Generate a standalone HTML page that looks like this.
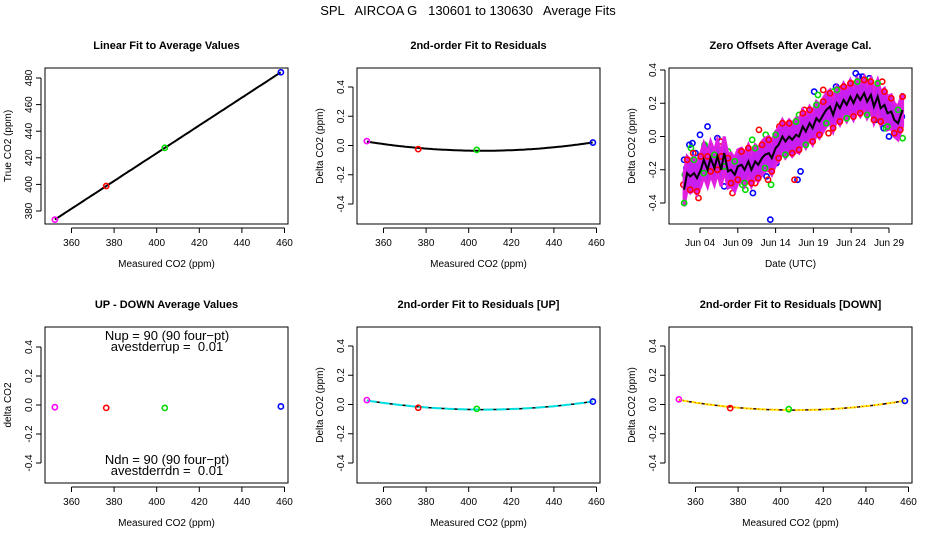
<!DOCTYPE html>
<html><head><meta charset="utf-8"><style>
body{margin:0;background:#fff}
svg{display:block;font-family:"Liberation Sans",Arial,sans-serif}
text{white-space:pre}
</style></head><body>
<svg id="c" width="936" height="540" viewBox="0 0 936 540">
<text x="468" y="15" text-anchor="middle" font-size="13" xml:space="preserve">SPL   AIRCOA G   130601 to 130630   Average Fits</text>
</svg>
<script>
// ---- data ----
const measured = [352.2, 376.3, 403.8, 458.3];
const trueVals = [373.5, 398.8, 427.5, 484.3];
const residAll = [0.03, -0.025, -0.03, 0.02];
const residUp = [0.03, -0.022, -0.03, 0.02];
const residDown = [0.035, -0.025, -0.032, 0.025];
const upDown = [-0.015, -0.02, -0.02, -0.01];
const ptColors = ["#ff00ff", "#ff0000", "#00dd00", "#0000ff"];
const xTicks = [360, 380, 400, 420, 440, 460];
const yTicks1 = [380, 400, 420, 440, 460, 480];
const resTicks = [-0.4, -0.2, 0.0, 0.2, 0.4];
const resTickLabels = ["-0.4", "-0.2", "0.0", "0.2", "0.4"];
// zero offsets: mean line (day of June, value)
const meanDays = [1.9,2.3,2.7,3.2,3.6,4.1,4.5,5.0,5.4,5.9,6.3,6.8,7.2,7.7,8.1,8.6,9.0,9.5,9.9,10.4,10.8,11.3,11.7,12.2,12.6,13.1,13.5,14.0,14.4,14.9,15.3,15.8,16.2,16.7,17.1,17.6,18.0,18.5,18.9,19.4,19.8,20.3,20.7,21.2,21.6,22.1,22.5,23.0,23.4,23.9,24.3,24.8,25.2,25.7,26.1,26.6,27.0,27.5,27.9,28.4,28.8,29.3,29.7,30.2,30.5,30.8];
const meanVals = [-0.32,-0.22,-0.24,-0.22,-0.25,-0.2,-0.14,-0.2,-0.13,-0.19,-0.12,-0.2,-0.1,-0.21,-0.2,-0.23,-0.18,-0.17,-0.2,-0.15,-0.2,-0.15,-0.17,-0.13,-0.11,-0.1,-0.13,-0.07,-0.05,0.0,-0.03,0.0,-0.02,0.01,0.0,0.06,0.03,0.08,0.05,0.11,0.09,0.13,0.16,0.18,0.13,0.2,0.17,0.22,0.19,0.24,0.2,0.25,0.22,0.26,0.21,0.25,0.18,0.24,0.17,0.19,0.14,0.15,0.1,0.08,0.12,0.16];
const blueDays = [1.9,2.2,2.6,3.0,3.4,4.0,4.6,5.0,6.3,7.2,11.0,12.8,13.3,14.1,16.9,17.3,19.1,22.0,24.6,25.0,25.5,26.4,27.2,28.3,29.0,30.2,30.7];
const blueVals = [-0.14,-0.19,-0.05,-0.04,-0.1,0.01,-0.06,0.06,-0.01,-0.3,-0.34,-0.24,-0.5,-0.16,-0.26,-0.21,0.27,0.3,0.38,0.36,0.36,0.35,0.1,0.05,0.0,0.02,0.12];
const redDays = [1.8,2.4,2.9,3.1,3.8,5.5,6.7,8.3,11.3,11.8,13.0,14.5,15.3,16.5,17.8,20.3,21.0,22.8,24.0,26.4,28.1,29.4,30.4,30.8];
const redVals = [-0.29,-0.22,-0.32,-0.1,-0.37,-0.09,-0.03,-0.34,-0.28,0.04,-0.26,0.06,0.06,-0.26,0.16,0.28,0.02,0.29,0.32,0.3,0.33,0.16,0.04,0.24];
const greenDays = [2.0,2.8,4.6,5.8,7.7,9.6,10.0,10.9,12.7,13.4,14.3,17.1,19.6,21.6,23.2,24.6,25.9,28.6,30.0,30.8];
const greenVals = [-0.23,-0.07,-0.05,-0.13,-0.09,-0.29,-0.32,-0.02,0.01,-0.29,-0.13,0.13,0.25,0.27,0.27,0.31,0.34,0.05,0.01,-0.01];
const dayTicks = [4, 9, 14, 19, 24, 29];
const dayLabels = ["Jun 04","Jun 09","Jun 14","Jun 19","Jun 24","Jun 29"];

const svg = document.getElementById('c');
const NS = 'http://www.w3.org/2000/svg';
function mk(tag, attrs, parent) { const e = document.createElementNS(NS, tag); for (const k in attrs) e.setAttribute(k, attrs[k]); (parent || svg).appendChild(e); return e; }
function txt(x, y, s, size, extra, parent) { const t = mk('text', Object.assign({x: x, y: y, 'font-size': size, 'text-anchor': 'middle'}, extra || {}), parent); t.textContent = s; return t; }
const W = 243, H = 156;
function linScale(d0, d1, r0, r1) { return v => r0 + (v - d0) / (d1 - d0) * (r1 - r0); }
function fitQuad(xs, ys) {
  const n = xs.length; let S = [[0,0,0],[0,0,0],[0,0,0]], b = [0,0,0];
  const xm = 400;
  for (let i = 0; i < n; i++) { const x = xs[i] - xm, p = [1, x, x*x]; for (let r = 0; r < 3; r++) { b[r] += p[r]*ys[i]; for (let c = 0; c < 3; c++) S[r][c] += p[r]*p[c]; } }
  const A = S.map((r, i) => r.concat([b[i]]));
  for (let i = 0; i < 3; i++) { let m = i; for (let k = i+1; k < 3; k++) if (Math.abs(A[k][i]) > Math.abs(A[m][i])) m = k; [A[i], A[m]] = [A[m], A[i]];
    for (let k = 0; k < 3; k++) if (k !== i) { const f = A[k][i] / A[i][i]; for (let c = i; c < 4; c++) A[k][c] -= f*A[i][c]; } }
  const co = A.map((r, i) => r[3] / r[i]);
  return x => co[0] + co[1]*(x-xm) + co[2]*(x-xm)*(x-xm);
}
function panel(name, left, top, title, xlab, ylab) {
  const g = mk('g', {});
  
  
  const t = txt(left + W/2, top - 19, title, 11, {'font-weight': 'bold'}, g);
  
  
  const xl = txt(left + W/2, top + H + 43, xlab, 10, {}, g);
  
  
  const yl = txt(0, 0, ylab, 10, {transform: `translate(${left-34},${top+H/2}) rotate(-90)`}, g);
  
  
  const box = mk('rect', {x: left, y: top, width: W, height: H, fill: 'none', stroke: '#000', 'stroke-width': 1}, g);
  
  
  return g;
}
function xAxis(g, sx, ticks, labels, top) {
  const a = mk('g', {}, g);
  
  
  const y = top + H + 4;
  mk('line', {x1: sx(ticks[0]), x2: sx(ticks[ticks.length-1]), y1: y, y2: y, stroke: '#000'}, a);
  ticks.forEach((v, i) => { mk('line', {x1: sx(v), x2: sx(v), y1: y, y2: y + 5, stroke: '#000'}, a); txt(sx(v), y + 18, labels[i], 10, {}, a); });
}
function yAxis(g, sy, ticks, labels, left) {
  const a = mk('g', {}, g);
  
  
  const x = left - 4;
  mk('line', {y1: sy(ticks[0]), y2: sy(ticks[ticks.length-1]), x1: x, x2: x, stroke: '#000'}, a);
  ticks.forEach((v, i) => { mk('line', {y1: sy(v), y2: sy(v), x1: x, x2: x - 5, stroke: '#000'}, a); txt(0, 0, labels[i], 10, {transform: `translate(${x-9},${sy(v)}) rotate(-90)`}, a); });
}
function pts(g, xs, ys, sx, sy, colors, name) {
  xs.forEach((v, i) => {
    const c = mk('circle', {cx: sx(v), cy: sy(ys[i]), r: 2.6, fill: 'none', stroke: Array.isArray(colors) ? colors[i] : colors, 'stroke-width': 1.6}, g);
    
    
  });
}
function curve(g, f, sx, sy, attrs, name) {
  let d = '';
  for (let x = measured[0]; x <= measured[3] + 0.01; x += 1) d += (d ? 'L' : 'M') + sx(x).toFixed(1) + ',' + sy(f(x)).toFixed(1);
  const p = mk('path', Object.assign({d: d, fill: 'none'}, attrs), g);
  
  
}
const lefts = [45, 357, 669], tops = [68, 327];
const xLabels = xTicks.map(String);
const mkSx = l => linScale(360, 460, l + 26.5, l + 239.5);
const mkRes = t => linScale(-0.4, 0.4, t + 136, t + 19);

// Panel 1
{ const l = lefts[0], t = tops[0], g = panel('linear-fit-panel', l, t, 'Linear Fit to Average Values', 'Measured CO2 (ppm)', 'True CO2 (ppm)');
  const sx = mkSx(l), sy = linScale(380, 480, t + 143, t + 10);
  xAxis(g, sx, xTicks, xLabels, t); yAxis(g, sy, yTicks1, yTicks1.map(String), l);
  const n = 4, mx = measured.reduce((a,b)=>a+b)/n, my = trueVals.reduce((a,b)=>a+b)/n;
  let sxy = 0, sxx = 0; measured.forEach((x,i)=>{ sxy += (x-mx)*(trueVals[i]-my); sxx += (x-mx)*(x-mx); });
  const s = sxy/sxx, f = x => my + s*(x-mx);
  curve(g, f, sx, sy, {stroke: '#000', 'stroke-width': 2}, 'fit-line');
  pts(g, measured, trueVals, sx, sy, ptColors, 'calibration-point'); }

// Panel 2
{ const l = lefts[1], t = tops[0], g = panel('residual-fit-panel', l, t, '2nd-order Fit to Residuals', 'Measured CO2 (ppm)', 'Delta CO2 (ppm)');
  const sx = mkSx(l), sy = mkRes(t);
  xAxis(g, sx, xTicks, xLabels, t); yAxis(g, sy, resTicks, resTickLabels, l);
  curve(g, fitQuad(measured, residAll), sx, sy, {stroke: '#000', 'stroke-width': 2}, 'quadratic-fit');
  pts(g, measured, residAll, sx, sy, ptColors, 'residual-point'); }

// Panel 3
{ const l = lefts[2], t = tops[0], g = panel('zero-offsets-panel', l, t, 'Zero Offsets After Average Cal.', 'Date (UTC)', 'Delta CO2 (ppm)');
  const sx = linScale(4, 29, l + 31, l + 220), sy = linScale(-0.4, 0.4, t + 135, t + 2);
  xAxis(g, sx, dayTicks, dayLabels, t); yAxis(g, sy, resTicks, resTickLabels, l);
  pts(g, blueDays, blueVals, sx, sy, '#0000ff', 'blue-offset-point');
  pts(g, greenDays, greenVals, sx, sy, '#00dd00', 'green-offset-point');
  pts(g, redDays, redVals, sx, sy, '#ff0000', 'red-offset-point');
  let up = '', dn = '';
  meanDays.forEach((d, i) => { up += (i ? 'L' : 'M') + sx(d).toFixed(1) + ',' + sy(meanVals[i] + 0.1).toFixed(1); });
  for (let i = meanDays.length - 1; i >= 0; i--) dn += 'L' + sx(meanDays[i]).toFixed(1) + ',' + sy(meanVals[i] - 0.1).toFixed(1);
  const band = mk('path', {d: up + dn + 'Z', fill: '#c81ef0', stroke: '#e020e0', 'stroke-width': 3}, g);
  
  
  // inner red/green scatter near band
  meanDays.forEach((d, i) => {
    const c = mk('circle', {cx: sx(d), cy: sy(meanVals[i] + (i % 2 ? 0.08 : -0.08)), r: 2.6, fill: 'none', stroke: i % 3 ? '#ff0000' : '#00dd00', 'stroke-width': 1.6}, g);
    
    
  });
  let d = ''; meanDays.forEach((x, i) => d += (i ? 'L' : 'M') + sx(x).toFixed(1) + ',' + sy(meanVals[i]).toFixed(1));
  const ml = mk('path', {d: d, fill: 'none', stroke: '#000', 'stroke-width': 2}, g);
  
   }

// Panel 4
{ const l = lefts[0], t = tops[1], g = panel('up-down-panel', l, t, 'UP - DOWN Average Values', 'Measured CO2 (ppm)', 'delta CO2');
  const sx = mkSx(l), sy = linScale(-0.4, 0.4, t + 136, t + 20);
  xAxis(g, sx, xTicks, xLabels, t); yAxis(g, sy, resTicks, resTickLabels, l);
  pts(g, measured, upDown, sx, sy, ptColors, 'up-down-point');
  [['Nup = 90 (90 four\u2212pt)', t + 13], ['avestderrup =  0.01', t + 24], ['Ndn = 90 (90 four\u2212pt)', t + 137], ['avestderrdn =  0.01', t + 148]].forEach(a => {
    const e = txt(l + 122, a[1], a[0], 13, {}, g);
    
     }); }

// Panel 5
{ const l = lefts[1], t = tops[1], g = panel('residual-up-panel', l, t, '2nd-order Fit to Residuals [UP]', 'Measured CO2 (ppm)', 'Delta CO2 (ppm)');
  const sx = mkSx(l), sy = mkRes(t);
  xAxis(g, sx, xTicks, xLabels, t); yAxis(g, sy, resTicks, resTickLabels, l);
  const f = fitQuad(measured, residUp);
  curve(g, f, sx, sy, {stroke: '#000', 'stroke-width': 1.5}, 'quadratic-fit');
  curve(g, f, sx, sy, {stroke: '#00e0e0', 'stroke-width': 2, 'stroke-dasharray': '10 3'}, 'quadratic-fit-up');
  pts(g, measured, residUp, sx, sy, ptColors, 'residual-point'); }

// Panel 6
{ const l = lefts[2], t = tops[1], g = panel('residual-down-panel', l, t, '2nd-order Fit to Residuals [DOWN]', 'Measured CO2 (ppm)', 'Delta CO2 (ppm)');
  const sx = mkSx(l), sy = mkRes(t);
  xAxis(g, sx, xTicks, xLabels, t); yAxis(g, sy, resTicks, resTickLabels, l);
  const f = fitQuad(measured, residDown);
  curve(g, f, sx, sy, {stroke: '#000', 'stroke-width': 1.5}, 'quadratic-fit');
  curve(g, f, sx, sy, {stroke: '#ffee00', 'stroke-width': 2, 'stroke-dasharray': '10 3'}, 'quadratic-fit-down');
  curve(g, f, sx, sy, {stroke: '#ff0000', 'stroke-width': 1, 'stroke-dasharray': '1 3'}, 'quadratic-fit-down-dots');
  pts(g, measured, residDown, sx, sy, ptColors, 'residual-point'); }
</script>
</body></html>
